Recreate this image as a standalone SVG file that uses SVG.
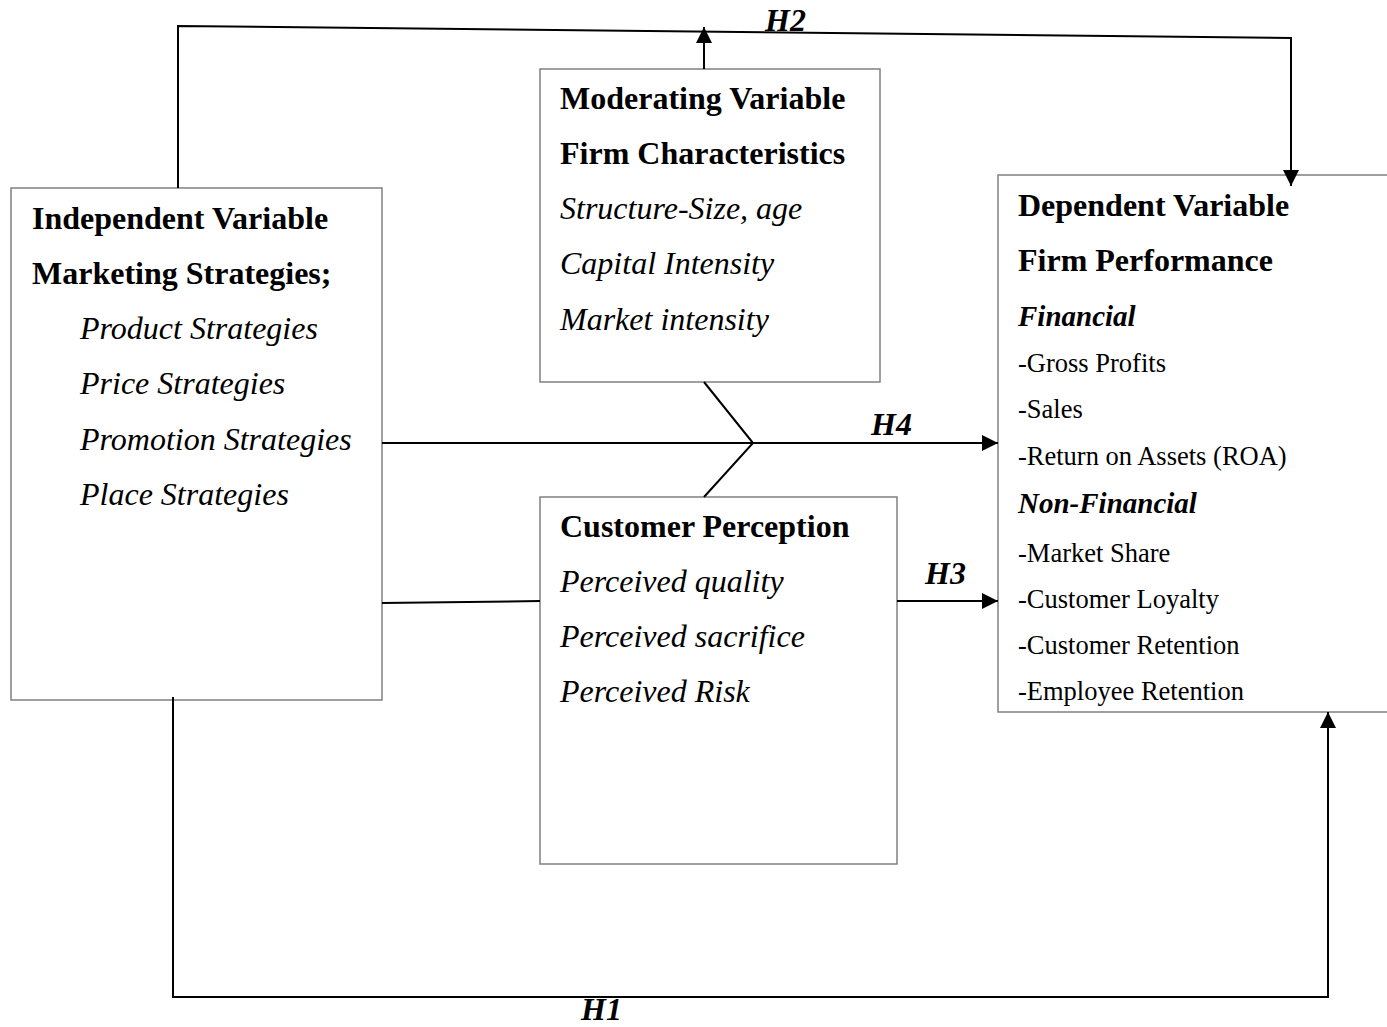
<svg xmlns="http://www.w3.org/2000/svg" width="1387" height="1027" viewBox="0 0 1387 1027">
<style>
.box{fill:#fff;stroke:#808080;stroke-width:1.5}
.c{fill:none;stroke:#000;stroke-width:2}
.t{font-family:"Liberation Serif","Times New Roman",serif;fill:#000}
.b{font-weight:bold;font-size:32px}
.i{font-style:italic;font-size:32px}
.bi{font-weight:bold;font-style:italic;font-size:29px}
.r{font-size:26.5px}
.h{font-weight:bold;font-style:italic;font-size:32px}
</style>
<defs>
<marker id="a" viewBox="0 0 16 16" refX="16" refY="8" markerWidth="16" markerHeight="16" markerUnits="userSpaceOnUse" orient="auto">
<path d="M0,0 L16,8 L0,16 z" fill="#000"/>
</marker>
</defs>
<rect width="1387" height="1027" fill="#fff"/>
<g id="independent">
<rect class="box" x="11" y="188" width="371" height="512"/>
<text class="t b" x="32" y="229">Independent Variable</text>
<text class="t b" x="32" y="284">Marketing Strategies;</text>
<text class="t i" x="80" y="339">Product Strategies</text>
<text class="t i" x="80" y="394">Price Strategies</text>
<text class="t i" x="80" y="450">Promotion Strategies</text>
<text class="t i" x="80" y="505">Place Strategies</text>
</g>
<g id="moderating">
<rect class="box" x="540" y="69" width="340" height="313"/>
<text class="t b" x="560" y="109">Moderating Variable</text>
<text class="t b" x="560" y="164">Firm Characteristics</text>
<text class="t i" x="560" y="219">Structure-Size, age</text>
<text class="t i" x="560" y="274">Capital Intensity</text>
<text class="t i" x="560" y="330">Market intensity</text>
</g>
<g id="perception">
<rect class="box" x="540" y="497" width="357" height="367"/>
<text class="t b" x="560" y="537">Customer Perception</text>
<text class="t i" x="560" y="592">Perceived quality</text>
<text class="t i" x="560" y="647">Perceived sacrifice</text>
<text class="t i" x="560" y="702">Perceived Risk</text>
</g>
<g id="dependent">
<path class="box" d="M1388,175 L998,175 L998,712 L1388,712"/>
<text class="t b" x="1018" y="216">Dependent Variable</text>
<text class="t b" x="1018" y="271">Firm Performance</text>
<text class="t bi" x="1018" y="326">Financial</text>
<text class="t r" x="1018" y="372">-Gross Profits</text>
<text class="t r" x="1018" y="418">-Sales</text>
<text class="t r" x="1018" y="465">-Return on Assets (ROA)</text>
<text class="t bi" x="1018" y="513">Non-Financial</text>
<text class="t r" x="1018" y="562">-Market Share</text>
<text class="t r" x="1018" y="608">-Customer Loyalty</text>
<text class="t r" x="1018" y="654">-Customer Retention</text>
<text class="t r" x="1018" y="700">-Employee Retention</text>
</g>
<g id="connectors">
<polyline class="c" points="178,188 178,26 1291,38 1291,186" marker-end="url(#a)"/>
<line class="c" x1="704" y1="69" x2="704" y2="27" marker-end="url(#a)"/>
<line class="c" x1="382" y1="443" x2="998" y2="443" marker-end="url(#a)"/>
<polyline class="c" points="704,382 753,443 704,497"/>
<line class="c" x1="897" y1="601" x2="998" y2="601" marker-end="url(#a)"/>
<line class="c" x1="382" y1="603" x2="540" y2="601"/>
<polyline class="c" points="173,697 173,997 1328,997 1328,712" marker-end="url(#a)"/>
<text class="t h" x="765" y="31">H2</text>
<text class="t h" x="871" y="435">H4</text>
<text class="t h" x="925" y="584">H3</text>
<text class="t h" x="581" y="1020">H1</text>
</g>
</svg>
